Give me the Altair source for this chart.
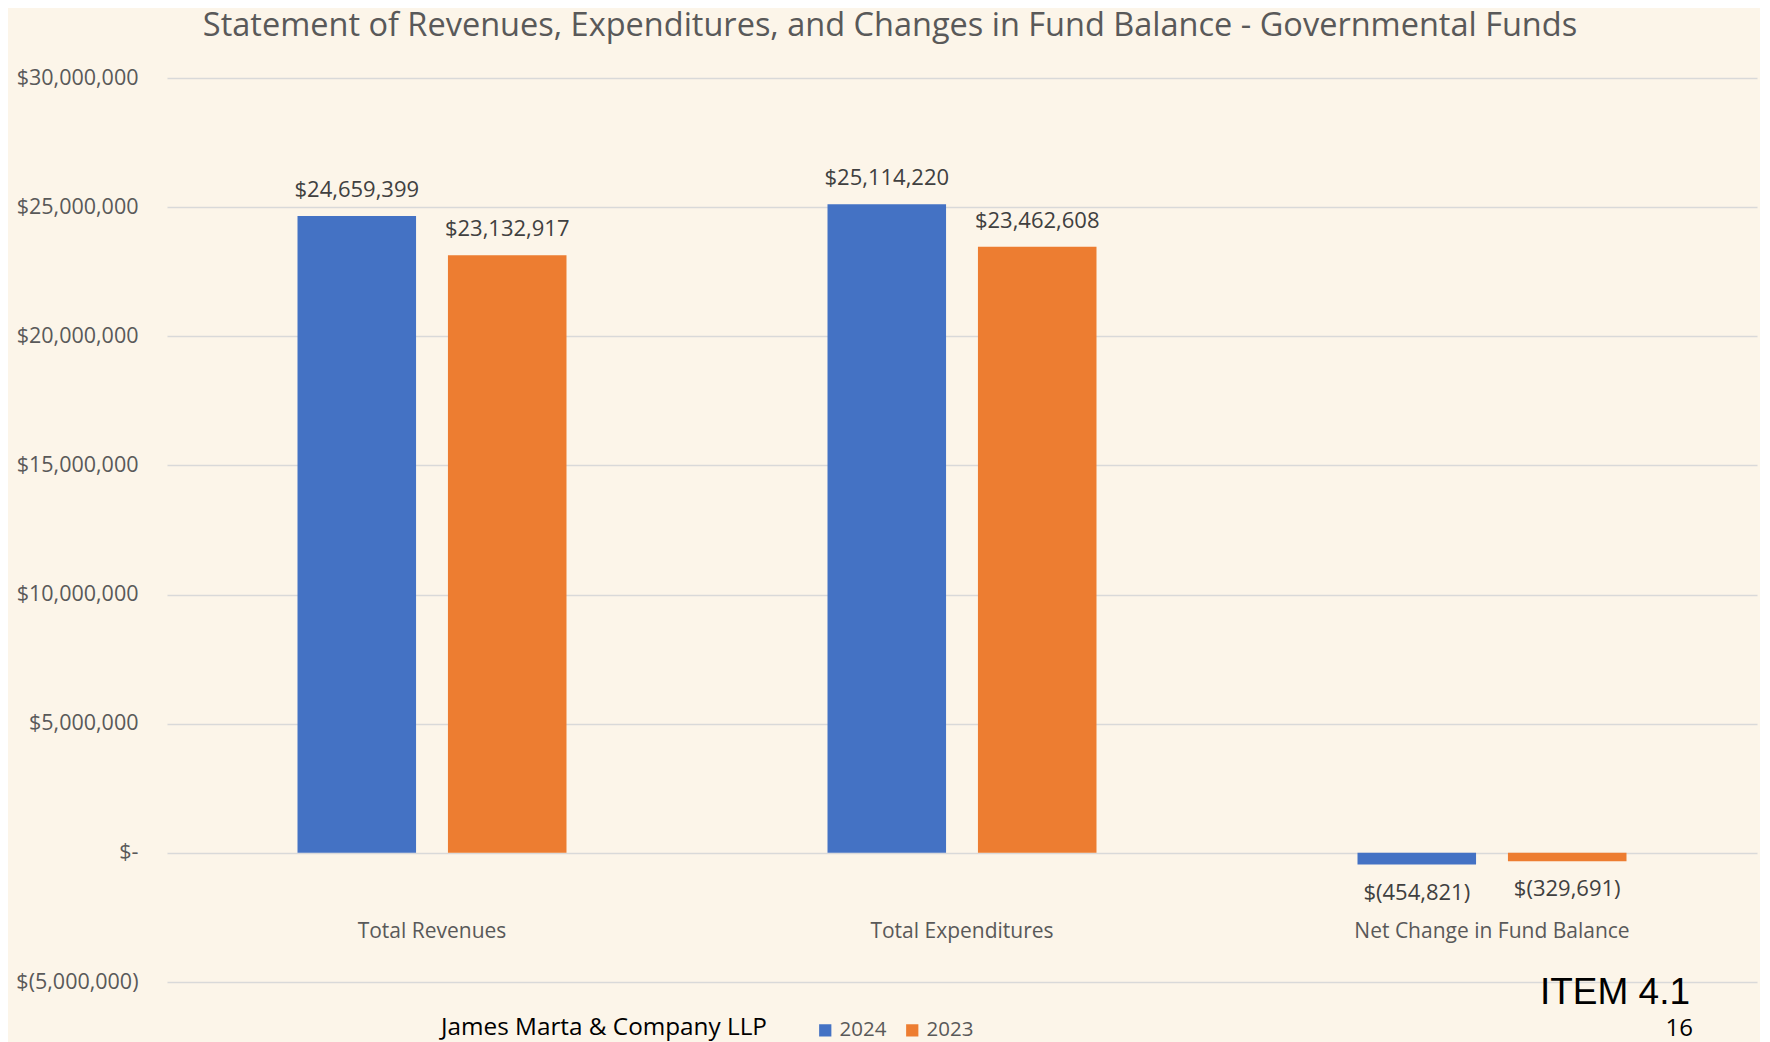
import altair as alt
import pandas as pd

categories = ["Total Revenues", "Total Expenditures", "Net Change in Fund Balance"]
years = ["2024", "2023"]
values_2024 = [24659399, 25114220, -454821]
values_2023 = [23132917, 23462608, -329691]
y_ticks = [-5000000, 0, 5000000, 10000000, 15000000, 20000000, 25000000, 30000000]
colors = ["#4472C4", "#ED7D31"]

title_text = "Statement of Revenues, Expenditures, and Changes in Fund Balance - Governmental Funds"
footer_text = "James Marta & Company LLP"
item_text = "ITEM 4.1"
page_text = "16"


def acct(v):
    return f"${v:,}" if v >= 0 else f"$({-v:,})"


rows = []
for i, c in enumerate(categories):
    for y, vals in zip(years, [values_2024, values_2023]):
        rows.append({"category": c, "year": y, "value": vals[i], "label": acct(vals[i])})
df = pd.DataFrame(rows)

FONT = "Open Sans"
GRAY = "#595959"

x_enc = alt.X("category:N", sort=categories,
              scale=alt.Scale(paddingInner=0, paddingOuter=0),
              axis=alt.Axis(title=None, ticks=False, domain=False, labelAngle=0,
                            labelFont=FONT, labelFontSize=21, labelColor=GRAY,
                            labelLimit=0,
                            labelBaseline="middle", labelPadding=-51, grid=False))
xoff = alt.XOffset("year:N", sort=years,
                   scale=alt.Scale(paddingInner=0.212, paddingOuter=0.8675))
y_enc = alt.Y("value:Q",
              scale=alt.Scale(domain=[-5000000, 30000000], nice=False, zero=False),
              axis=alt.Axis(title=None, values=y_ticks, ticks=False, domain=False,
                            labelFont=FONT, labelFontSize=21.5, labelColor=GRAY,
                            labelPadding=29, gridColor="#D9D9D9", gridWidth=1.4,
                            labelExpr="datum.value == 0 ? '$-' : (datum.value < 0 ? '$(' + format(-datum.value, ',') + ')' : '$' + format(datum.value, ','))"))
color_enc = alt.Color("year:N", sort=years,
                      scale=alt.Scale(domain=years, range=colors),
                      legend=alt.Legend(title=None, orient="none", direction="horizontal",
                                        legendX=648, legendY=942, symbolType="square",
                                        symbolSize=150, symbolStrokeWidth=0,
                                        labelFont=FONT, labelFontSize=20.5, labelColor=GRAY,
                                        labelOffset=4, columnPadding=15, padding=0))

base = alt.Chart(df)
bars = base.mark_bar().encode(x=x_enc, xOffset=xoff, y=y_enc, color=color_enc)

pos_labels = base.transform_filter("datum.value >= 0").mark_text(
    font=FONT, fontSize=22, color="#404040", baseline="middle", dy=-26
).encode(x=alt.X("category:N", sort=categories), xOffset=alt.XOffset("year:N", sort=years),
         y="value:Q", text="label:N")
neg_labels = base.transform_filter("datum.value < 0").mark_text(
    font=FONT, fontSize=22, color="#404040", baseline="middle", dy=28
).encode(x=alt.X("category:N", sort=categories), xOffset=alt.XOffset("year:N", sort=years),
         y="value:Q", text="label:N")

footer = alt.Chart(pd.DataFrame({"t": [footer_text]})).mark_text(
    font=FONT, fontSize=24.3, color="#000000", align="center", baseline="middle").encode(
    x=alt.value(437), y=alt.value(950), text="t:N")
item = alt.Chart(pd.DataFrame({"t": [item_text]})).mark_text(
    font="Liberation Sans", fontSize=37, color="#000000",
    align="right", baseline="middle").encode(
    x=alt.value(1523), y=alt.value(915), text="t:N")
page = alt.Chart(pd.DataFrame({"t": [page_text]})).mark_text(
    font=FONT, fontSize=24, color="#000000",
    align="right", baseline="middle").encode(
    x=alt.value(1526), y=alt.value(951), text="t:N")

chart = alt.layer(bars, pos_labels, neg_labels, footer, item, page).properties(
    width=1590, height=904,
    title=alt.Title(title_text, font=FONT, fontSize=32.5, fontWeight="normal",
                    color=GRAY, anchor="middle", dx=-72, offset=25),
    background="#FCF5E9",
    autosize=alt.AutoSizeParams(type="none"),
    padding={"left": 159, "top": 70, "right": 3, "bottom": 60},
).configure_view(stroke=None)

chart.save("out.html", embed_options={"renderer": "svg", "actions": False})
